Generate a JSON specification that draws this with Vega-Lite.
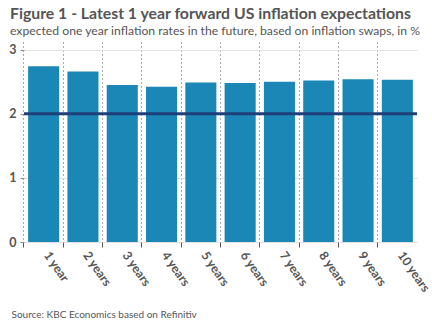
{
  "$schema": "https://vega.github.io/schema/vega-lite/v6.json",
  "width": 393,
  "height": 200,
  "autosize": {"type": "none"},
  "padding": {"left": 24, "top": 42, "right": 15, "bottom": 92},
  "background": "white",
  "config": {"view": {"stroke": null}, "font": "Lato"},
  "title": {
    "text": "Figure 1 - Latest 1 year forward US inflation expectations",
    "subtitle": "expected one year inflation rates in the future, based on inflation swaps, in %",
    "anchor": "start",
    "frame": "group",
    "dx": -14,
    "offset": 4,
    "fontSize": 15.8,
    "fontWeight": "bold",
    "color": "#555555",
    "subtitleFontSize": 12.2,
    "subtitleColor": "#555555",
    "subtitlePadding": 2
  },
  "layer": [
    {
      "data": {"values": [
        {"horizon": "1 year", "rate": 2.74},
        {"horizon": "2 years", "rate": 2.66},
        {"horizon": "3 years", "rate": 2.45},
        {"horizon": "4 years", "rate": 2.42},
        {"horizon": "5 years", "rate": 2.49},
        {"horizon": "6 years", "rate": 2.48},
        {"horizon": "7 years", "rate": 2.50},
        {"horizon": "8 years", "rate": 2.52},
        {"horizon": "9 years", "rate": 2.54},
        {"horizon": "10 years", "rate": 2.53}
      ]},
      "mark": {"type": "bar", "color": "#1b87b6"},
      "encoding": {
        "x": {
          "field": "horizon", "type": "nominal", "sort": null,
          "scale": {"paddingInner": 0.21, "paddingOuter": 0.105},
          "axis": {
            "title": "Source: KBC Economics based on Refinitiv",
            "titleX": -13, "titleY": 75, "titleAlign": "left", "titleBaseline": "alphabetic",
            "titleFontWeight": "normal", "titleFontSize": 10, "titleColor": "#555555",
            "bandPosition": -0.133,
            "labelOffset": 8,
            "labelAngle": 55, "labelAlign": "left", "labelBaseline": "top",
            "labelFontWeight": "bold", "labelFontSize": 12.3, "labelColor": "#555555",
            "labelPadding": 2,
            "domain": false,
            "ticks": true, "tickSize": 5, "tickColor": "#555555",
            "grid": true, "gridDash": [1, 3], "gridColor": "#555555", "gridWidth": 1
          }
        },
        "y": {
          "field": "rate", "type": "quantitative",
          "scale": {"domain": [0, 3.12], "nice": false},
          "axis": {
            "title": null, "values": [0, 1, 2, 3], "format": "d",
            "labelFontWeight": "bold", "labelFontSize": 12.5, "labelColor": "#555555",
            "labelPadding": 4,
            "domain": false, "tickSize": 4, "tickColor": "#888888",
            "grid": true, "gridColor": "#e3e3e3", "gridWidth": 1
          }
        }
      }
    },
    {
      "data": {"values": [{"target": 2}]},
      "mark": {"type": "rule", "color": "#1f3f78", "strokeWidth": 3},
      "encoding": {"y": {"field": "target", "type": "quantitative"}}
    }
  ]
}
